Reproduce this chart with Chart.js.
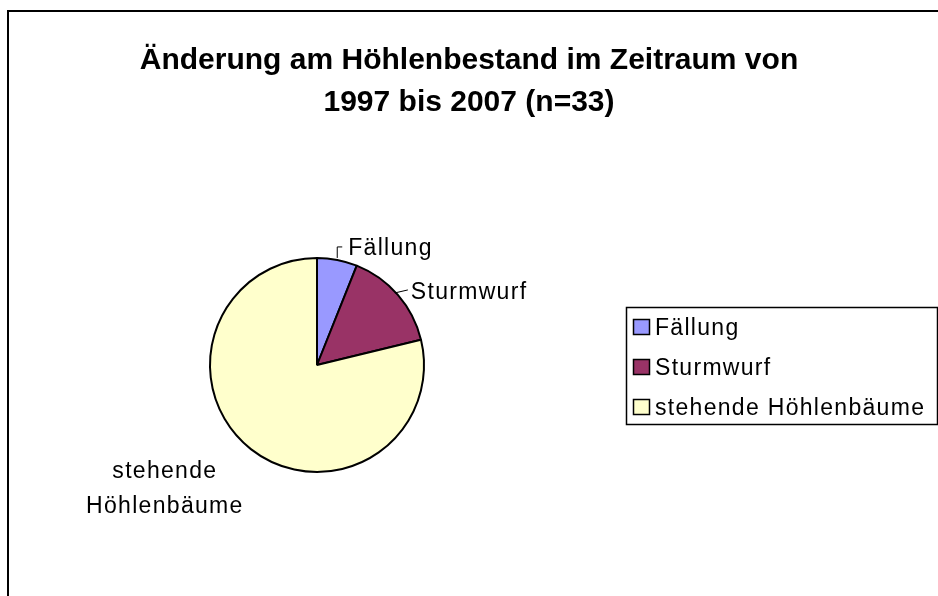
<!DOCTYPE html>
<html>
<head>
<meta charset="utf-8">
<script src="https://cdn.jsdelivr.net/npm/chart.js@4"></script>
<style>
  html, body { margin: 0; padding: 0; background: #fff; }
  #wrap { position: relative; width: 938px; height: 596px; overflow: hidden; }
  #frame { position: absolute; left: 7px; top: 10px; width: 1000px; height: 700px; border: 2px solid #000; box-sizing: border-box; }
  canvas { position: absolute; left: 0; top: 0; }
</style>
</head>
<body>
<div id="wrap">
  <div id="frame"></div>
  <canvas id="pieChart" width="938" height="596"></canvas>
</div>
<script>
// Daten
const titleLines = ['Änderung am Höhlenbestand im Zeitraum von', '1997 bis 2007 (n=33)'];
const categories = ['Fällung', 'Sturmwurf', 'stehende Höhlenbäume'];
const values = [2, 5, 26];
const sliceLabels = [['Fällung'], ['Sturmwurf'], ['stehende', 'Höhlenbäume']];
const colors = ['#9999FF', '#993366', '#FFFFCC'];

const labelFont = '23px "Liberation Sans", Arial, sans-serif';

// Titel, Beschriftungen und Legende
const extrasPlugin = {
  id: 'extras',
  afterDraw(chart) {
    const c = chart.ctx;
    c.save();
    // Titel
    c.fillStyle = '#000';
    c.font = 'bold 30px "Liberation Sans", Arial, sans-serif';
    c.textAlign = 'center';
    c.textBaseline = 'alphabetic';
    c.fillText(titleLines[0], 469, 69);
    c.fillText(titleLines[1], 469, 111);

    // Beschriftung an den Segmenten
    const arcs = chart.getDatasetMeta(0).data;
    c.font = labelFont;
    c.letterSpacing = '1.3px';
    c.strokeStyle = '#000';
    c.lineWidth = 1;
    arcs.forEach((arc, i) => {
      const p = arc.getProps(['x', 'y', 'startAngle', 'endAngle', 'outerRadius'], true);
      const mid = (p.startAngle + p.endAngle) / 2;
      const ex = p.x + Math.cos(mid) * p.outerRadius;
      const ey = p.y + Math.sin(mid) * p.outerRadius;
      c.textAlign = 'left';
      if (i === 0) {
        c.beginPath();
        c.moveTo(ex, ey - 2);
        c.lineTo(ex, ey - 13);
        c.lineTo(ex + 5, ey - 13);
        c.stroke();
        c.fillText(sliceLabels[i][0], ex + 11, ey - 5);
      } else if (i === 1) {
        c.beginPath();
        c.moveTo(ex - 3, ey - 2);
        c.lineTo(ex + 10, ey - 5);
        c.stroke();
        c.fillText(sliceLabels[i][0], ex + 13, ey + 4);
      } else {
        c.textAlign = 'center';
        sliceLabels[i].forEach((t, k) => c.fillText(t, ex - 86, ey + 29 + k * 35));
      }
    });

    // Legende
    c.lineWidth = 1.5;
    c.strokeRect(626.5, 307.5, 311, 117);
    categories.forEach((name, i) => {
      const y = 319 + i * 40;
      c.fillStyle = colors[i];
      c.fillRect(633, y, 17, 16);
      c.strokeRect(633.5, y + 0.5, 16, 15);
      c.fillStyle = '#000';
      c.textAlign = 'left';
      c.fillText(name, 655, y + 16);
    });
    c.restore();
  }
};

const ctx = document.getElementById('pieChart');
const pieChart = new Chart(ctx, {
  type: 'pie',
  data: {
    labels: categories,
    datasets: [{
      data: values,
      backgroundColor: colors,
      borderColor: '#000',
      borderWidth: 2
    }]
  },
  options: {
    responsive: false,
    animation: false,
    layout: {
      padding: { left: 209, right: 513, top: 257, bottom: 123 }
    },
    plugins: {
      legend: { display: false },
      title: { display: false },
      tooltip: { enabled: false }
    }
  },
  plugins: [extrasPlugin]
});
</script>
</body>
</html>
